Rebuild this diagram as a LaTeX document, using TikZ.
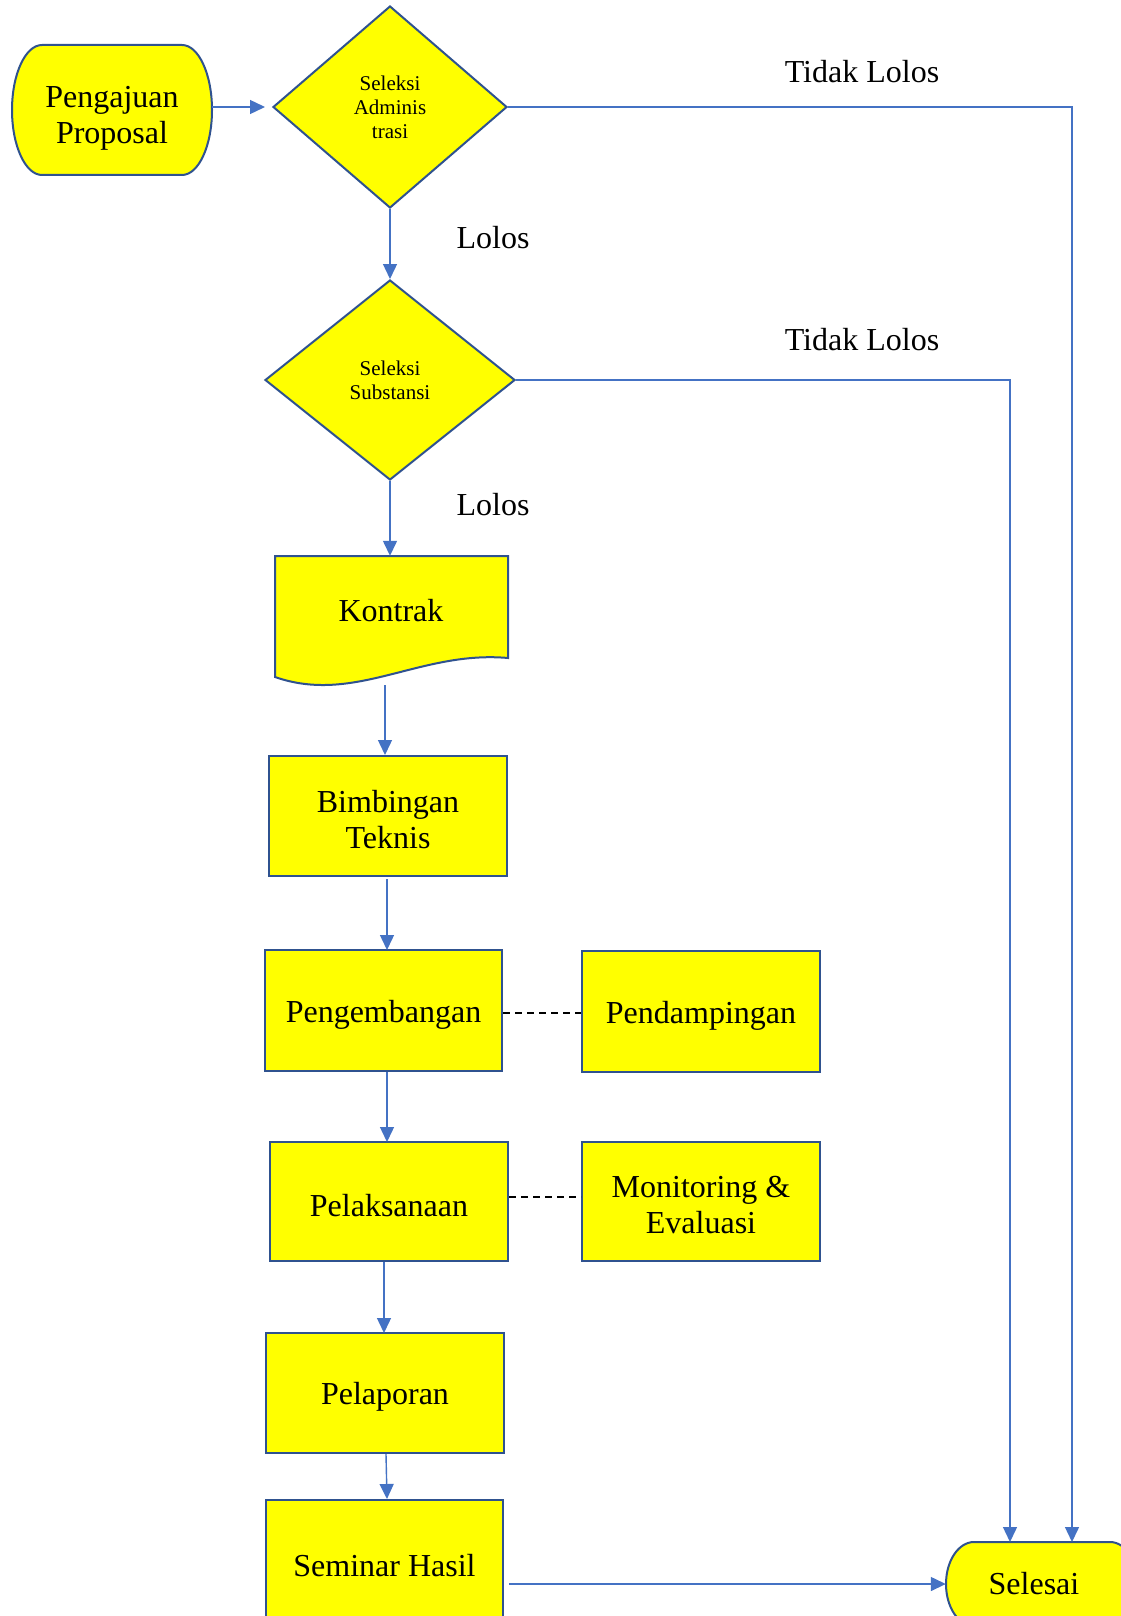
\documentclass[tikz,border=0pt]{standalone}
\usepackage{fontspec}
\setmainfont{Liberation Serif}
\usetikzlibrary{arrows.meta,shapes.geometric}
\definecolor{fillY}{HTML}{FFFF00}
\definecolor{edgeB}{HTML}{2F528F}
\definecolor{conn}{HTML}{4472C4}
\newcommand\bigtxt{\fontsize{32}{36}\selectfont}
\newcommand\smalltxt{\fontsize{21}{24}\selectfont}
\begin{document}
\begin{tikzpicture}[x=1pt,y=-1pt,
  box/.style={draw=edgeB, line width=2pt, fill=fillY, inner sep=0pt},
  shp/.style={draw=edgeB, line width=2pt, fill=fillY},
  txt/.style={inner sep=0pt, align=center, font=\bigtxt},
  intxt/.style={label={[txt,yshift=-4pt]center:#1}},
  dia/.style={diamond, draw=edgeB, line width=2pt, fill=fillY, inner sep=0pt, align=center, font=\smalltxt},
  arr/.style={draw=conn, line width=1.4pt, -{Triangle[length=15pt,width=14pt]}},
  lnk/.style={draw=black, line width=1.3pt, dash pattern=on 7pt off 5pt},
  lbl/.style={inner sep=0pt, font=\bigtxt}]
\useasboundingbox (0,0) rectangle (1120,1616);
\fill[white] (0,0) rectangle (1120,1616);

% Pengajuan Proposal (terminator)
\draw[shp] (42,45) -- (182,45) arc[start angle=-90,end angle=90,x radius=30,y radius=65]
  -- (42,175) arc[start angle=90,end angle=270,x radius=30,y radius=65] -- cycle;
\node[minimum width=200pt, minimum height=130pt, inner sep=0pt] (peng0) at (112,110) {};
\node[txt] at (112,118) {Pengajuan\\Proposal};

% Decisions
\node[dia, minimum width=234pt, minimum height=202pt] (d1) at (390,107) {Seleksi\\Adminis\\trasi};
\node[dia, minimum width=250pt, minimum height=200pt] (d2) at (390,380) {Seleksi\\Substansi};

% Kontrak (document shape)
\draw[shp] (275,556) -- (508,556) -- (508,658)
  .. controls (420,650) and (355,705) .. (275,677) -- cycle;
\node[minimum width=233pt, minimum height=129pt, inner sep=0pt] (kontrak) at (391.5,620.5) {};
\node[txt] at (391,611) {Kontrak};

% Process boxes
\node[box, minimum width=238pt, minimum height=120pt, intxt={Bimbingan\\Teknis}] (bimb) at (388,816) {};
\node[box, minimum width=237pt, minimum height=121pt, intxt={Pengembangan}] (pengb) at (383.5,1010.5) {};
\node[box, minimum width=238pt, minimum height=121pt, intxt={Pendampingan}] (pend) at (701,1011.5) {};
\node[box, minimum width=238pt, minimum height=119pt, intxt={Pelaksanaan}] (pelak) at (389,1201.5) {};
\node[box, minimum width=238pt, minimum height=119pt, intxt={Monitoring \&\\Evaluasi}] (monev) at (701,1201.5) {};
\node[box, minimum width=238pt, minimum height=120pt, intxt={Pelaporan}] (pelap) at (385,1393) {};
\node[box, minimum width=237pt, minimum height=125pt, intxt={Seminar Hasil}] (semh) at (384.5,1562) {};

% Selesai (terminator, partly cut off)
\draw[shp] (974,1542) -- (1110,1542) arc[start angle=-90,end angle=90,x radius=28,y radius=42]
  -- (974,1626) arc[start angle=90,end angle=270,x radius=28,y radius=42] -- cycle;
\node[txt, minimum width=176pt, minimum height=84pt] (sel) at (1034,1584) {Selesai};
\coordinate (s1) at (1072,1542);
\coordinate (s2) at (1010,1542);

% Connectors
\draw[arr, shorten >=7pt] (peng0.east |- d1.west) -- (d1.west);
\draw[arr] (d1.south) -- (d2.north);
\draw[arr] (d2.south) -- (d2.south |- kontrak.north);
\draw[arr] (385,685) -- (385,755);
\draw[arr] (387,879) -- (387,950);
\draw[arr] (387,1072) -- (387,1142);
\draw[arr] (384,1262) -- (384,1333);
\draw[arr] (386,1454) -- (387,1499);
\draw[arr] (d1.east) -| (s1);
\draw[arr] (d2.east) -| (s2);
\draw[arr] ([xshift=5pt]semh.east |- sel.west) -- (sel.west);
\draw[lnk] (pengb.east |- 0,1013) -- (pend.west |- 0,1013);
\draw[lnk] (pelak.east |- 0,1197) -- (monev.west |- 0,1197);

% Labels
\node[lbl] (t1) at (862,72) {Tidak Lolos};
\node[lbl] (t2) at (862,340) {Tidak Lolos};
\node[lbl] (l1) at (493,238) {Lolos};
\node[lbl] (l2) at (493,505) {Lolos};
\end{tikzpicture}
\end{document}
